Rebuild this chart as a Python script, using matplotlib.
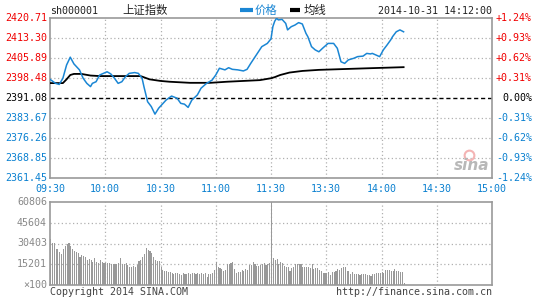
import matplotlib
matplotlib.use('Agg')
import matplotlib.pyplot as plt
from matplotlib.transforms import blended_transform_factory

# price line: trading minute since 09:30 -> index value
price_min = [0, 3, 5, 7, 9, 11, 13, 16, 18, 20, 22, 23, 25, 27, 29, 31, 33, 35, 37, 39,
             41, 43, 46, 48, 50, 51, 53, 55, 57, 59, 61, 63, 66, 69, 71, 73, 75, 77, 80, 82,
             85, 88, 90, 92, 95, 97, 99, 102, 105, 107, 109, 112, 115, 118, 120, 121, 122, 123, 124, 126,
             128, 129, 131, 133, 135, 137, 139, 140, 142, 144, 146, 148, 149, 151, 154, 156, 157, 158, 160, 162,
             165, 167, 170, 172, 174, 175, 177, 179, 181, 183, 185, 186, 188, 190, 192]
price_val = [2398.0, 2396.5, 2396.1, 2398.4, 2403.3, 2406.2, 2403.7, 2401.5, 2398.4, 2396.5,
             2395.3, 2396.5, 2397.1, 2399.6, 2400.2, 2400.8, 2400.0, 2398.4, 2396.5, 2397.1,
             2399.0, 2400.2, 2400.5, 2400.2, 2398.4, 2395.3, 2389.7, 2387.9, 2385.1, 2387.3,
             2388.8, 2390.3, 2391.8, 2391.0, 2389.1, 2388.8, 2387.6, 2390.3, 2392.2, 2394.7,
             2396.5, 2397.7, 2399.6, 2402.1, 2401.5, 2402.3, 2401.7, 2401.5, 2401.1, 2401.7,
             2403.9, 2407.0, 2410.1, 2411.3, 2413.0, 2417.5, 2419.5, 2420.6, 2420.0, 2420.2,
             2418.7, 2416.3, 2417.5, 2418.1, 2419.0, 2418.5, 2415.0, 2413.8, 2410.1, 2408.9,
             2408.2, 2409.5, 2410.1, 2411.3, 2411.3, 2409.5, 2407.0, 2404.5, 2403.9, 2405.2,
             2405.8, 2406.4, 2406.6, 2407.6, 2407.4, 2407.6, 2407.0, 2406.4, 2408.9, 2410.7,
             2412.6, 2413.8, 2415.6, 2416.3, 2415.6]

# average price line
avg_min = [0, 7, 9, 11, 13, 17, 22, 27, 49, 50, 54, 60, 65, 76, 87, 96, 105, 114, 120, 122,
           125, 130, 137, 146, 155, 173, 192]
avg_val = [2396.6, 2396.6, 2398.0, 2399.6, 2400.0, 2400.0, 2399.4, 2399.2, 2399.2, 2399.0,
           2398.0, 2397.4, 2397.1, 2396.7, 2396.7, 2397.1, 2397.4, 2397.7, 2398.4, 2398.8,
           2399.6, 2400.5, 2401.1, 2401.5, 2401.7, 2402.1, 2402.5]

# volume per minute (x100), minutes 0..192
volume = [33700, 31000, 30800, 26400, 26600, 24400, 22700, 26100, 28800, 29800,
          30500, 28600, 26600, 24900, 24200, 23200, 20700, 22000, 21500, 20700,
          18300, 19000, 18300, 17100, 19500, 17100, 16300, 18300, 16600, 15900,
          16400, 15900, 15900, 15400, 15100, 15400, 15400, 16400, 19500, 15400,
          15400, 16400, 14650, 13400, 13400, 13900, 12900, 14650, 17600, 18300,
          20800, 22500, 26900, 25600, 24900, 23200, 20800, 18300, 17800, 17800,
          12900, 11200, 10300, 10300, 9600, 9600, 8800, 8100, 8800, 8800,
          8100, 7300, 8800, 8100, 8100, 8800, 8100, 8800, 8800, 8100,
          8800, 8100, 8800, 8100, 8800, 5900, 7800, 7800, 8800, 11200,
          17100, 12900, 12200, 11500, 10500, 11000, 15100, 15100, 15900, 17100,
          11500, 9000, 9800, 9800, 11000, 10500, 11500, 11000, 14650, 14650,
          16600, 15400, 13900, 13900, 14650, 15400, 15900, 14650, 15100, 15900,
          60806,
          19500, 18300, 18800, 15100, 16600, 15900, 13900, 13400, 13400, 10500,
          12200, 12900, 15100, 15100, 15100, 15400, 12900, 12900, 12900, 12900,
          12200, 15100, 11500, 12200, 12200, 11000, 10500, 9000, 8500, 9000,
          9800, 7300, 9800, 9800, 10500, 11500, 11000, 12200, 12900, 12900,
          10300, 10300, 7800, 9500, 8100, 8100, 8100, 7300, 7800, 7800,
          7800, 7300, 7300, 6800, 8100, 7800, 8500, 8500, 9000, 9800,
          9000, 11000, 11000, 11000, 10300, 10300, 11500, 10300, 10300, 9800,
          9800, 1500]

price_ticks = [2420.71, 2413.30, 2405.89, 2398.48, 2391.08, 2383.67, 2376.26, 2368.85, 2361.45]
price_labels = ['2420.71', '2413.30', '2405.89', '2398.48', '2391.08', '2383.67', '2376.26', '2368.85', '2361.45']
pct_labels = ['+1.24%', '+0.93%', '+0.62%', '+0.31%', '0.00%', '-0.31%', '-0.62%', '-0.93%', '-1.24%']
time_labels = ['09:30', '10:00', '10:30', '11:00', '11:30', '13:30', '14:00', '14:30', '15:00']
vol_ticks = [60806, 45604, 30403, 15201, 0]
vol_labels = ['60806', '45604', '30403', '15201', '\u00d7100']

RED = '#f00000'
BLUE = '#0a80d0'
GRAY = '#999999'
LINE = '#1a86d4'
MONO = 'DejaVu Sans Mono'
fs = 7.2

fig = plt.figure(figsize=(5.45, 3.0), dpi=100)
ax = fig.add_axes([50 / 545, 1 - 178 / 300, 442 / 545, 160 / 300])
axv = fig.add_axes([50 / 545, 15 / 300, 442 / 545, 83 / 300])

for a in (ax, axv):
    a.set_xlim(0, 240)
    a.set_xticks([])
    a.set_yticks([])
    for s in a.spines.values():
        s.set_color(GRAY)
        s.set_linewidth(1.2)
    for x in range(30, 240, 30):
        a.axvline(x, color='#b0b0b0', lw=0.9, ls=(0, (1, 2)), zorder=0)

# main price panel
ax.set_ylim(price_ticks[-1], price_ticks[0])
for i, t in enumerate(price_ticks):
    if 0 < i < 8 and i != 4:
        ax.axhline(t, color='#b0b0b0', lw=0.9, ls=(0, (1, 2)), zorder=0)
ax.axhline(price_ticks[4], color='black', lw=1, ls=(0, (3, 2)), zorder=1)

ax.plot(avg_min, avg_val, color='black', lw=1.3, zorder=3)
ax.plot(price_min, price_val, color=LINE, lw=1.1, zorder=4)

tr = blended_transform_factory(ax.transAxes, ax.transData)
for i, t in enumerate(price_ticks):
    c = RED if i < 4 else ('black' if i == 4 else BLUE)
    ax.text(-3 / 442, t, price_labels[i], transform=tr, ha='right', va='center',
            color=c, fontsize=fs, family=MONO)
    ax.text(482 / 442, t, pct_labels[i], transform=tr, ha='right', va='center',
            color=c, fontsize=fs, family=MONO)

trx = blended_transform_factory(ax.transData, ax.transAxes)
for i, lab in enumerate(time_labels):
    ax.text(i * 30, -10.5 / 160, lab, transform=trx, ha='center', va='center',
            color=BLUE, fontsize=fs, family=MONO)

# header row
ax.text(0, 1 + 7 / 160, 'sh000001', transform=ax.transAxes, ha='left', va='center',
        fontsize=fs, family=MONO, color='#222222')
ax.text(72 / 442, 1 + 7.5 / 160, '上证指数', transform=ax.transAxes, ha='left', va='center',
        fontsize=8.2, family=['Noto Sans CJK SC', 'DejaVu Sans'], color='#222222')
ax.plot([190 / 442, 203 / 442], [1 + 8 / 160] * 2, transform=ax.transAxes, color=LINE,
        lw=3, clip_on=False, solid_capstyle='butt')
ax.text(205 / 442, 1 + 7.5 / 160, '价格', transform=ax.transAxes, ha='left', va='center',
        fontsize=8.2, family=['Noto Sans CJK SC', 'DejaVu Sans'], color=LINE)
ax.plot([240 / 442, 250 / 442], [1 + 8 / 160] * 2, transform=ax.transAxes, color='black',
        lw=3, clip_on=False, solid_capstyle='butt')
ax.text(254 / 442, 1 + 7.5 / 160, '均线', transform=ax.transAxes, ha='left', va='center',
        fontsize=8.2, family=['Noto Sans CJK SC', 'DejaVu Sans'], color='#222222')
ax.text(1, 1 + 7 / 160, '2014-10-31 14:12:00', transform=ax.transAxes, ha='right', va='center',
        fontsize=fs, family=MONO, color='#222222')

# sina watermark
ax.text(422 / 442, 13 / 160, 'sina', transform=ax.transAxes, ha='center', va='center',
        fontsize=11, style='italic', weight='bold', color='#b8b8b8')
ax.plot([419 / 442], [23 / 160], transform=ax.transAxes, marker='o', ms=7, mfc='none',
        mec='#f4b4b4', mew=1.5)

# volume panel
axv.set_ylim(0, vol_ticks[0])
for t in vol_ticks[1:4]:
    axv.axhline(t, color='#b0b0b0', lw=0.9, ls=(0, (1, 2)), zorder=0)
axv.bar(range(len(volume)), volume, width=0.6, color=GRAY, align='edge', zorder=2,
        linewidth=0, antialiased=False)

trv = blended_transform_factory(axv.transAxes, axv.transData)
for t, lab in zip(vol_ticks, vol_labels):
    axv.text(-3 / 442, t, lab, transform=trv, ha='right', va='center',
             color='#888888', fontsize=fs, family=MONO)

axv.text(0, -7 / 83, 'Copyright 2014 SINA.COM', transform=axv.transAxes, ha='left',
         va='center', fontsize=fs, family=MONO, color='#444444')
axv.text(1, -7 / 83, 'http://finance.sina.com.cn', transform=axv.transAxes, ha='right',
         va='center', fontsize=fs, family=MONO, color='#444444')

fig.savefig('out.png', dpi=100, facecolor='white')
